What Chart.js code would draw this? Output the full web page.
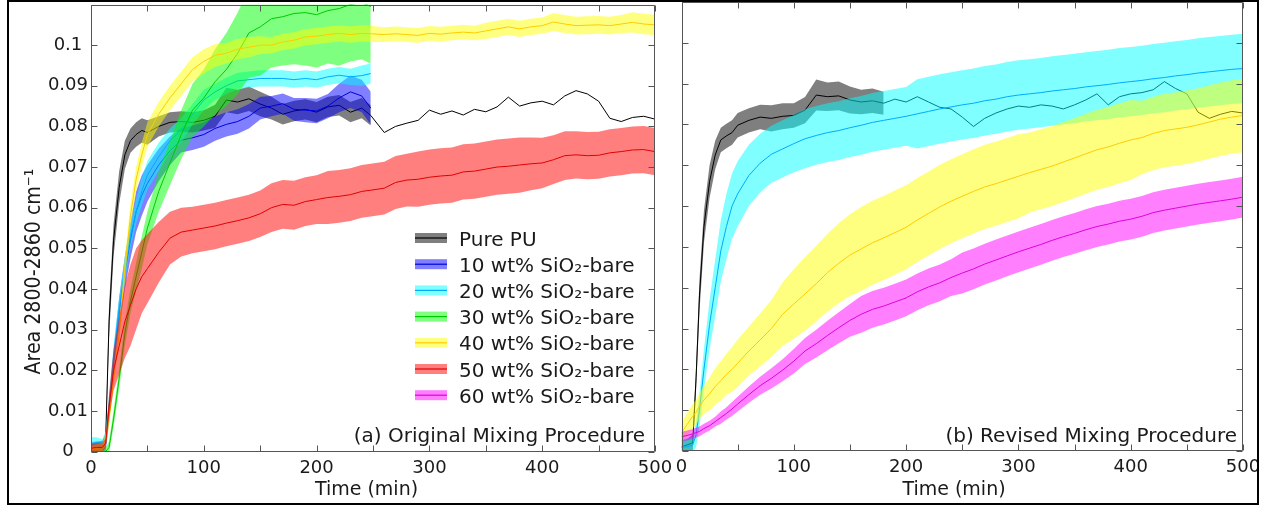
<!DOCTYPE html>
<html>
<head>
<meta charset="utf-8">
<script src="https://cdn.jsdelivr.net/npm/chart.js@4.4.0/dist/chart.umd.min.js"></script>
<style>
html, body { margin:0; padding:0; background:#fff; }
#wrap { position:relative; width:1267px; height:505px; overflow:hidden; }
#frame { position:absolute; left:7px; top:0; width:1252px; height:505px; border:2px solid #000; box-sizing:border-box; z-index:5; pointer-events:none; }
#cA { position:absolute; left:0; top:0; }
#cB { position:absolute; left:660px; top:0; }
</style>
</head>
<body>
<div id="wrap">
  <canvas id="cA" width="680" height="505"></canvas>
  <canvas id="cB" width="607" height="505"></canvas>
  <div id="frame"></div>
</div>
<script>
// series names / colours (index 0..6)
var seriesNames = ["Pure PU", "10 wt% SiO\u2082-bare", "20 wt% SiO\u2082-bare", "30 wt% SiO\u2082-bare",
                   "40 wt% SiO\u2082-bare", "50 wt% SiO\u2082-bare", "60 wt% SiO\u2082-bare"];
var lineColors = ["#000000", "#0000dd", "#00aaff", "#00c800", "#ffcc00", "#e00000", "#dd00dd"];
var bandColors = ["rgba(0,0,0,0.5)", "rgba(0,0,255,0.5)", "rgba(0,255,255,0.5)", "rgba(0,255,0,0.5)",
                  "rgba(255,255,0,0.5)", "rgba(255,0,0,0.5)", "rgba(255,0,255,0.5)"];

// (a) original mixing procedure, time in min
var timeA = [0,5,10,13,16,20,25,30,35,40,45,50,
  60,70,80,90,100,110,120,130,140,150,160,170,180,190,200,210,220,230,240,248,
  260,270,280,290,300,310,320,330,340,350,360,370,380,390,400,410,420,430,440,450,460,470,480,490,500];

var pureA = [0.0005,0.0008,0.001,0.003,0.032,0.052,0.065,0.073,0.0765,0.078,0.079,0.0785,
  0.080,0.081,0.0812,0.081,0.0815,0.0825,0.0865,0.086,0.0868,0.0855,0.0845,0.083,0.0838,0.0842,0.0835,0.0848,0.0852,0.0835,0.0845,0.0827,
  0.0785,0.0800,0.0808,0.0815,0.0840,0.0830,0.0838,0.0828,0.0842,0.0836,0.0848,0.0872,0.0850,0.0858,0.0862,0.0853,0.0875,0.0888,0.0880,0.0862,0.0820,0.0812,0.0822,0.0825,0.0818];
var pureAhw = [0.0015,0.0015,0.0015,0.0015,0.004,0.004,0.004,0.0035,0.003,0.003,0.003,0.003,
  0.0025,0.0025,0.0025,0.0025,0.0025,0.0028,0.003,0.003,0.003,0.003,0.0028,0.0025,0.0025,0.0025,0.0025,0.0025,0.0025,0.0025,0.0025,0.0025,
  null,null,null,null,null,null,null,null,null,null,null,null,null,null,null,null,null,null,null,null,null,null,null,null,null];

var tenA = [0.0008,0.001,0.001,0.002,0.010,0.022,0.034,0.044,0.052,0.059,0.063,0.066,
  0.0705,0.074,0.0766,0.0772,0.078,0.0795,0.0805,0.0812,0.0825,0.0845,0.085,0.0856,0.0842,0.084,0.0838,0.085,0.087,0.0885,0.0875,0.0845,
  null,null,null,null,null,null,null,null,null,null,null,null,null,null,null,null,null,null,null,null,null,null,null,null,null];
var tenAhw = [0.0015,0.0015,0.0015,0.002,0.003,0.003,0.004,0.004,0.0045,0.005,0.005,0.0045,
  0.004,0.0035,0.003,0.003,0.003,0.003,0.003,0.003,0.003,0.0028,0.0025,0.0025,0.0028,0.003,0.003,0.003,0.0035,0.004,0.004,0.004,
  null,null,null,null,null,null,null,null,null,null,null,null,null,null,null,null,null,null,null,null,null,null,null,null,null];

var twentyA = [0.002,0.002,0.0015,0.003,0.011,0.023,0.035,0.045,0.053,0.059,0.064,0.068,
  0.0725,0.0765,0.079,0.083,0.0865,0.0885,0.090,0.0912,0.0915,0.0918,0.0918,0.0918,0.0915,0.0918,0.0915,0.0922,0.0926,0.0922,0.0925,0.093,
  null,null,null,null,null,null,null,null,null,null,null,null,null,null,null,null,null,null,null,null,null,null,null,null,null];
var twentyAhw = [0.0015,0.0015,0.0015,0.002,0.003,0.003,0.003,0.003,0.003,0.003,0.0035,0.0035,
  0.0035,0.003,0.003,0.0025,0.0025,0.002,0.002,0.002,0.002,0.002,0.002,0.002,0.002,0.002,0.002,0.002,0.002,0.002,0.0025,0.0025,
  null,null,null,null,null,null,null,null,null,null,null,null,null,null,null,null,null,null,null,null,null,null,null,null,null];

var thirtyA = [0,0,0,0,0.001,0.008,0.018,0.029,0.037,0.043,0.049,0.055,
  0.064,0.071,0.078,0.084,0.087,0.091,0.094,0.098,0.103,0.1045,0.1065,0.107,0.1078,0.108,0.1075,0.1085,0.109,0.110,0.1105,0.1095,
  null,null,null,null,null,null,null,null,null,null,null,null,null,null,null,null,null,null,null,null,null,null,null,null,null];
var thirtyAhw = [0.001,0.001,0.001,0.001,0.0015,0.002,0.0025,0.003,0.003,0.0035,0.004,0.004,
  0.005,0.0055,0.006,0.0065,0.007,0.008,0.009,0.010,0.011,0.012,0.012,0.012,0.0125,0.013,0.013,0.013,0.014,0.014,0.014,0.014,
  null,null,null,null,null,null,null,null,null,null,null,null,null,null,null,null,null,null,null,null,null,null,null,null,null];

var fortyA = [0.0005,0.0008,0.001,0.003,0.008,0.018,0.029,0.045,0.058,0.067,0.073,0.078,
  0.083,0.087,0.0905,0.094,0.096,0.0975,0.098,0.099,0.0995,0.100,0.100,0.1008,0.1012,0.102,0.1022,0.1026,0.1029,0.1026,0.1029,0.1028,
  0.1026,0.1028,0.1026,0.1024,0.1029,0.1027,0.1030,0.1032,0.1030,0.1035,0.104,0.1045,0.104,0.1045,0.1048,0.1057,0.1052,0.1048,0.1049,0.1050,0.1048,0.1052,0.1056,0.1052,0.1050];
var fortyAhw = [0.001,0.001,0.001,0.0015,0.002,0.002,0.0025,0.003,0.003,0.003,0.003,0.003,
  0.003,0.003,0.003,0.003,0.003,0.0028,0.0025,0.0025,0.0025,0.0022,0.002,0.002,0.002,0.002,0.002,0.002,0.002,0.002,0.002,0.002,
  0.0018,0.0018,0.0018,0.0018,0.0018,0.0018,0.0018,0.0018,0.0018,0.002,0.002,0.002,0.002,0.002,0.002,0.0022,0.0022,0.0022,0.0022,0.0022,0.0022,0.0022,0.0025,0.0025,0.0025];

var fiftyA = [0.0008,0.001,0.001,0.002,0.011,0.020,0.026,0.032,0.036,0.040,0.043,0.045,
  0.049,0.0525,0.054,0.0545,0.055,0.0555,0.0562,0.0568,0.0575,0.0585,0.060,0.0608,0.0606,0.0615,0.0620,0.0625,0.0628,0.0632,0.064,0.0643,
  0.0648,0.0662,0.0668,0.067,0.0675,0.0678,0.068,0.0688,0.069,0.0695,0.070,0.0702,0.0705,0.0708,0.071,0.0718,0.0728,0.073,0.0728,0.0729,0.0735,0.0738,0.0742,0.0743,0.0738];
var fiftyAhw = [0.001,0.001,0.001,0.0012,0.003,0.005,0.007,0.009,0.010,0.010,0.009,0.0085,
  0.0075,0.0065,0.006,0.0057,0.0057,0.0057,0.0057,0.0057,0.0057,0.0057,0.006,0.006,0.006,0.006,0.006,0.0065,0.0065,0.0065,0.0065,0.0065,
  0.0065,0.0065,0.0065,0.0068,0.0068,0.0068,0.0068,0.0068,0.0068,0.0068,0.0068,0.0068,0.0068,0.0065,0.0062,0.006,0.006,0.0058,0.0058,0.0058,0.0058,0.0058,0.0058,0.0058,0.0058];

// (b) revised mixing procedure
var timeB = [0,5,10,13,16,20,25,30,35,40,45,50,
  60,70,80,90,100,110,120,130,140,150,160,170,180,190,200,210,220,230,240,250,
  260,270,280,290,300,310,320,330,340,350,360,370,380,390,400,410,420,430,440,450,460,470,480,490,500];

var pureB = [0.001,0.0015,0.002,0.018,0.038,0.055,0.066,0.0725,0.0762,0.0772,0.078,0.0798,
  0.081,0.0818,0.0815,0.082,0.0822,0.0835,0.0872,0.0868,0.087,0.086,0.0855,0.0858,0.0852,0.0862,0.0855,0.0868,0.0855,0.0842,0.0838,0.0818,
  0.0795,0.0815,0.0828,0.0838,0.0845,0.0842,0.0848,0.0845,0.0838,0.0848,0.0860,0.0875,0.0848,0.0868,0.0875,0.0878,0.0885,0.0905,0.0888,0.0875,0.083,0.0815,0.0825,0.0832,0.0828];
var pureBhw = [0.0015,0.0015,0.002,0.003,0.004,0.004,0.004,0.0035,0.003,0.003,0.003,0.003,
  0.003,0.003,0.0032,0.0032,0.003,0.0032,0.0038,0.0035,0.0035,0.0033,0.003,0.003,0.0028,null,null,null,null,null,null,null,
  null,null,null,null,null,null,null,null,null,null,null,null,null,null,null,null,null,null,null,null,null,null,null,null,null];

var twentyB = [0.001,0.001,0.0015,0.004,0.010,0.020,0.031,0.040,0.049,0.055,0.060,0.063,
  0.0675,0.0705,0.0727,0.074,0.0753,0.0765,0.0773,0.078,0.0785,0.0792,0.0798,0.0805,0.081,0.0815,0.082,0.0826,0.0832,0.0838,0.0843,0.0848,
  0.0852,0.0858,0.0862,0.0868,0.0872,0.0875,0.0878,0.0882,0.0885,0.0888,0.0892,0.0895,0.0898,0.0902,0.0905,0.0908,0.0912,0.0915,0.0919,0.0922,0.0926,0.0929,0.0932,0.0935,0.0937];
var twentyBhw = [0.002,0.002,0.002,0.003,0.004,0.005,0.006,0.007,0.0075,0.008,0.008,0.008,
  0.0075,0.0072,0.007,0.007,0.007,0.0072,0.0072,0.0072,0.0072,0.0072,0.0072,0.0072,0.0072,0.0072,0.0072,0.0085,0.0085,0.0085,0.0085,0.0085,
  0.0085,0.0085,0.0085,0.0085,0.0085,0.0085,0.0085,0.0085,0.0085,0.0085,0.0085,0.0085,0.0085,0.0085,0.0085,0.0085,0.0085,0.0085,0.0085,0.0085,0.0085,0.0085,0.0085,0.0085,0.0085];

var fortyB = [0.0045,0.0065,0.0085,0.0095,0.011,0.0125,0.014,0.0158,0.0172,0.0188,0.020,0.0215,
  0.0245,0.0272,0.030,0.0335,0.036,0.0385,0.041,0.0437,0.046,0.048,0.0495,0.051,0.0522,0.0535,0.0548,0.0566,0.0582,0.0598,0.0612,0.0624,
  0.0636,0.0647,0.0655,0.0664,0.0673,0.0682,0.069,0.0698,0.0708,0.0718,0.0728,0.0738,0.0745,0.0754,0.0762,0.0768,0.0778,0.0785,0.0789,0.0793,0.0799,0.0806,0.0813,0.0818,0.0822];
var fortyBhw = [0.0025,0.0028,0.003,0.003,0.0032,0.0035,0.004,0.0045,0.0048,0.005,0.0055,0.0058,
  0.006,0.0065,0.007,0.0078,0.0085,0.009,0.0093,0.0095,0.0098,0.010,0.0103,0.0103,0.0103,0.0103,0.0103,0.0103,0.0103,0.0103,0.0103,0.0103,
  0.0103,0.0103,0.0103,0.0103,0.0103,0.0098,0.0098,0.0098,0.0098,0.0098,0.0098,0.0098,0.0098,0.0098,0.0098,0.009,0.009,0.009,0.009,0.009,0.009,0.009,0.009,0.009,0.009];

var sixtyB = [0.0035,0.0038,0.0042,0.0045,0.0048,0.0055,0.0062,0.0072,0.0082,0.0092,0.0103,0.0115,
  0.0138,0.016,0.0178,0.0198,0.022,0.0245,0.0263,0.0283,0.0302,0.032,0.0335,0.0347,0.0355,0.0365,0.0375,0.039,0.0402,0.0412,0.0425,0.0436,
  0.0446,0.0458,0.0468,0.0478,0.0488,0.0497,0.0506,0.0516,0.0525,0.0533,0.0542,0.055,0.0556,0.0563,0.0568,0.0575,0.0584,0.059,0.0595,0.06,0.0605,0.0609,0.0613,0.0617,0.0622];
var sixtyBhw = [0.0012,0.0012,0.0012,0.0012,0.0012,0.0012,0.0012,0.0012,0.0015,0.0015,0.0017,0.0018,
  0.002,0.0022,0.0025,0.0027,0.003,0.0032,0.0034,0.0036,0.0038,0.004,0.0045,0.0045,0.0045,0.0045,0.0045,0.0045,0.0045,0.0045,0.0045,0.005,
  0.005,0.005,0.005,0.005,0.005,0.005,0.005,0.005,0.005,0.005,0.005,0.005,0.005,0.005,0.005,0.005,0.005,0.005,0.005,0.005,0.005,0.005,0.005,0.005,0.005];

var xTicks = { min: 0, max: 500, step: 50, labelEvery: 100 };
var yTicks = { min: 0, max: 0.11, step: 0.01 };

var FONT = "DejaVu Sans";
var TXT = "#1a1a1a";

// turn arrays into line / band datasets; later series drawn on top
function buildDatasets(time, list) {
  var ds = [];
  list.forEach(function(s, j) {
    var lo = [], hi = [], mid = [];
    for (var i = 0; i < time.length; i++) {
      if (s.v[i] === null) continue;
      mid.push({ x: time[i], y: s.v[i] });
      if (s.hw[i] !== null) {
        lo.push({ x: time[i], y: s.v[i] - s.hw[i] });
        hi.push({ x: time[i], y: s.v[i] + s.hw[i] });
      }
    }
    var ord = 1000 - 10 * j;
    ds.push({ data: lo, borderWidth: 0, borderColor: "transparent", pointRadius: 0, fill: false, order: ord });
    ds.push({ data: hi, borderWidth: 0, borderColor: "transparent", pointRadius: 0, backgroundColor: bandColors[s.k], fill: "-1", order: ord });
    ds.push({ data: mid, borderWidth: 1, borderColor: lineColors[s.k], pointRadius: 0, fill: false, order: ord - 5 });
  });
  return ds;
}

var boxTicks = {
  id: "boxTicks",
  afterDatasetsDraw: function(chart) {
    var ctx = chart.ctx, a = chart.chartArea, sx = chart.scales.x, sy = chart.scales.y;
    var L = Math.round(a.left) + 0.5, R = Math.round(a.right) - 0.5, T = Math.round(a.top) + 0.5, B = Math.round(a.bottom) - 0.5;
    ctx.save();
    ctx.strokeStyle = "#555";
    ctx.lineWidth = 1;
    ctx.beginPath();
    ctx.rect(L, T, R - L, B - T);
    sx.ticks.forEach(function(t, i) {
      var px = Math.round(sx.getPixelForTick(i)) + 0.5;
      ctx.moveTo(px, B); ctx.lineTo(px, B - 6);
      ctx.moveTo(px, T); ctx.lineTo(px, T + 6);
    });
    sy.ticks.forEach(function(t, i) {
      var py = Math.round(sy.getPixelForTick(i)) + 0.5;
      ctx.moveTo(L, py); ctx.lineTo(L + 6, py);
      ctx.moveTo(R, py); ctx.lineTo(R - 6, py);
    });
    ctx.stroke();
    ctx.restore();
  }
};

function textPlugin(opts) {
  return {
    id: "texts",
    afterDraw: function(chart) {
      var ctx = chart.ctx, a = chart.chartArea;
      ctx.save();
      ctx.fillStyle = TXT;
      ctx.font = "20px '" + FONT + "'";
      ctx.textAlign = "right";
      ctx.textBaseline = "alphabetic";
      ctx.fillText(opts.note, a.right - opts.noteGap, 442);
      ctx.font = "19px '" + FONT + "'";
      ctx.textAlign = "center";
      ctx.fillText("Time (min)", opts.xTitleX, 495);
      if (opts.yTitle) {
        ctx.save();
        ctx.translate(40, 271.5);
        ctx.scale(1.15, 1);
        ctx.rotate(-Math.PI / 2);
        ctx.fillText(opts.yTitle, 0, 0);
        ctx.restore();
      }
      if (opts.legend) {
        ctx.textAlign = "left";
        ctx.font = "20px '" + FONT + "'";
        for (var i = 0; i < seriesNames.length; i++) {
          var cy = 238 + 26.2 * i;
          ctx.fillStyle = bandColors[i];
          ctx.fillRect(415, cy - 5, 32, 10);
          ctx.strokeStyle = lineColors[i];
          ctx.lineWidth = 1.2;
          ctx.beginPath();
          ctx.moveTo(415, cy); ctx.lineTo(447, cy);
          ctx.stroke();
          ctx.fillStyle = TXT;
          ctx.fillText(seriesNames[i], 459, cy + 7.5);
        }
      }
      ctx.restore();
    }
  };
}

function makeChart(id, datasets, pad, yWidth, xHeight, showY, plug) {
  return new Chart(document.getElementById(id), {
    type: "line",
    data: { datasets: datasets },
    options: {
      responsive: false,
      animation: false,
      devicePixelRatio: 1,
      layout: { padding: pad },
      plugins: { legend: { display: false }, tooltip: { enabled: false } },
      scales: {
        x: {
          type: "linear", min: xTicks.min, max: xTicks.max,
          grid: { display: false, drawTicks: false }, border: { display: false },
          ticks: {
            stepSize: xTicks.step, autoSkip: false, maxRotation: 0, padding: 6,
            color: TXT, font: { family: FONT, size: 18 },
            callback: function(v) { return v % xTicks.labelEvery === 0 ? String(v) : ""; }
          },
          afterFit: function(s) { s.height = xHeight; s.paddingLeft = 0; s.paddingRight = 0; }
        },
        y: {
          type: "linear", min: yTicks.min, max: yTicks.max,
          grid: { display: false, drawTicks: false }, border: { display: false },
          ticks: {
            display: showY, stepSize: yTicks.step, padding: 3, crossAlign: "center",
            color: TXT, font: { family: FONT, size: 18 },
            callback: function(v) { var r = Math.round(v * 100) / 100; return r > 0.105 ? "" : String(r); }
          },
          afterFit: function(s) { s.width = yWidth; s.paddingTop = 0; s.paddingBottom = 0; }
        }
      }
    },
    plugins: [boxTicks, plug]
  });
}

var dsA = buildDatasets(timeA, [
  { k: 0, v: pureA, hw: pureAhw },
  { k: 1, v: tenA, hw: tenAhw },
  { k: 2, v: twentyA, hw: twentyAhw },
  { k: 3, v: thirtyA, hw: thirtyAhw },
  { k: 4, v: fortyA, hw: fortyAhw },
  { k: 5, v: fiftyA, hw: fiftyAhw }
]);
var dsB = buildDatasets(timeB, [
  { k: 0, v: pureB, hw: pureBhw },
  { k: 2, v: twentyB, hw: twentyBhw },
  { k: 4, v: fortyB, hw: fortyBhw },
  { k: 6, v: sixtyB, hw: sixtyBhw }
]);

makeChart("cA", dsA, { left: 10, right: 25, top: 4.5, bottom: 3 }, 81, 50.5, true,
  textPlugin({ note: "(a) Original Mixing Procedure", noteGap: 10, xTitleX: 366.5,
               yTitle: "Area 2800-2860 cm\u207B\u00B9", legend: true }));
makeChart("cB", dsB, { left: 21.5, right: 24, top: 2, bottom: 3 }, 0, 51, false,
  textPlugin({ note: "(b) Revised Mixing Procedure", noteGap: 6, xTitleX: 294 }));
</script>
</body>
</html>
